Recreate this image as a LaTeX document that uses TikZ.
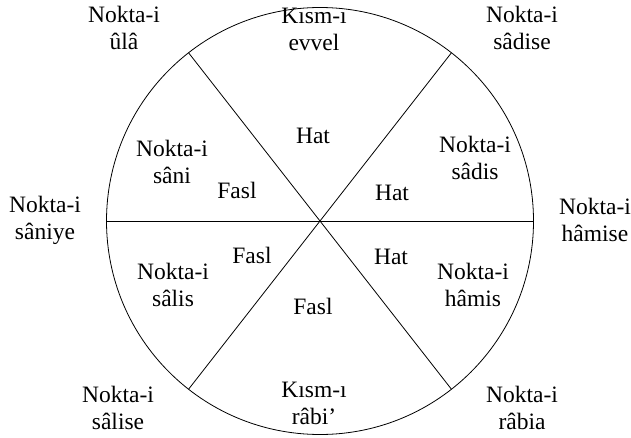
\documentclass[tikz,border=0pt]{standalone}
\usepackage{fontspec}
\setmainfont{Liberation Serif}
\usetikzlibrary{calc}
\tikzset{
  lbl/.style={align=center,inner sep=0pt,font=\fontsize{23.5}{27}\selectfont},
  rim/.style={draw=black,line width=0.8pt},
}
\begin{document}
\begin{tikzpicture}[x=1pt,y=1pt]
\useasboundingbox (0,0) rectangle (631,437);
\coordinate (c) at (320,216);
\draw[rim] (c) circle (213.5);
\coordinate (w) at ($(c)+(180:213.5)$);
\coordinate (e) at ($(c)+(0:213.5)$);
\coordinate (ne) at ($(c)+(52:213.5)$);
\coordinate (nw) at ($(c)+(128:213.5)$);
\coordinate (sw) at ($(c)+(232:213.5)$);
\coordinate (se) at ($(c)+(308:213.5)$);
\draw[rim] (w)--(e); \draw[rim] (nw)--(se); \draw[rim] (ne)--(sw);
% outer points
\node[lbl] (ula) at (124,409) {Nokta-i\\ ûlâ};
\node[lbl] (sadise) at (522,409) {Nokta-i\\ sâdise};
\node[lbl] (saniye) at (45,217) {Nokta-i\\ sâniye};
\node[lbl] (hamise) at (595,217) {Nokta-i\\ hâmise};
\node[lbl] (salise) at (118,29) {Nokta-i\\ sâlise};
\node[lbl] (rabia) at (522,29) {Nokta-i\\ râbia};
% inner sectors
\node[lbl] (evvel) at (314,408) {Kısm-ı\\ evvel};
\node[lbl] (rabi) at (314,34) {Kısm-ı\\ râbi’};
\node[lbl] (sani) at (172,275) {Nokta-i\\ sâni};
\node[lbl] (sadis) at (475,279) {Nokta-i\\ sâdis};
\node[lbl] (salis) at (173,152) {Nokta-i\\ sâlis};
\node[lbl] (hamis) at (473,152) {Nokta-i\\ hâmis};
\node[lbl] (hat1) at (313,301) {Hat};
\node[lbl] (hat2) at (392,244) {Hat};
\node[lbl] (hat3) at (391,180) {Hat};
\node[lbl] (fasl1) at (237,247) {Fasl};
\node[lbl] (fasl2) at (252,182) {Fasl};
\node[lbl] (fasl3) at (313,131) {Fasl};
\end{tikzpicture}
\end{document}
